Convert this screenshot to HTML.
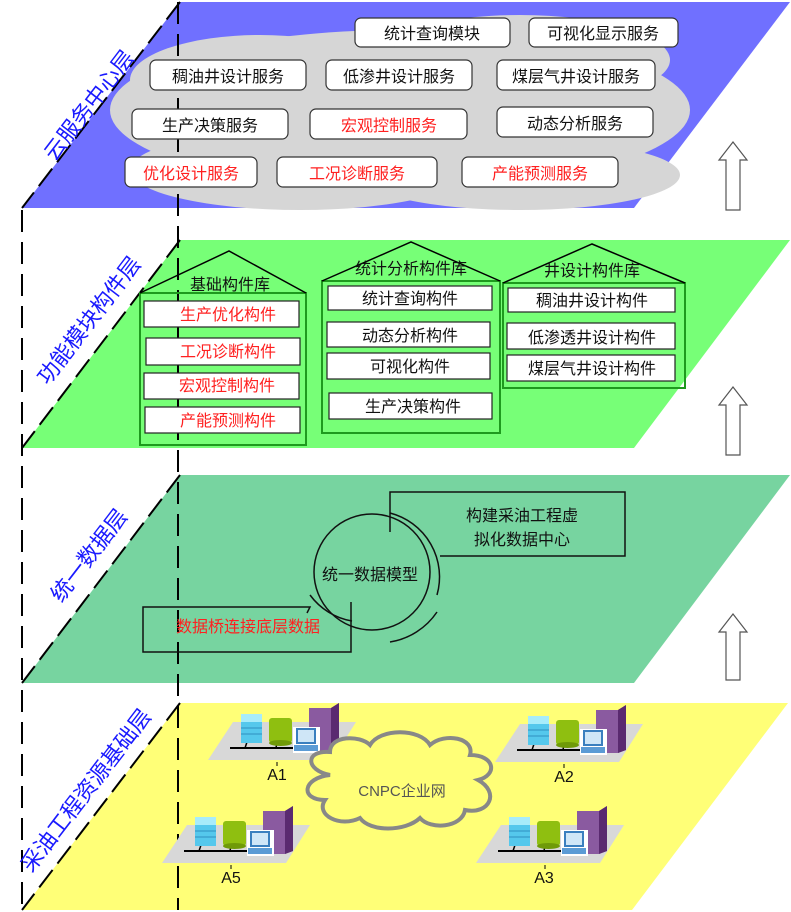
<!DOCTYPE html>
<html><head><meta charset="utf-8"><style>
body{margin:0;background:#fff}
svg{display:block}
text{font-family:"Liberation Sans","Noto Sans CJK SC",sans-serif}
</style></head><body>
<svg width="791" height="912" viewBox="0 0 791 912" xmlns="http://www.w3.org/2000/svg">
<defs>
<g id="site">
 <polygon points="0,0 25,-38 148,-38 124,0" fill="#d8d8d8"/>
 <line x1="22" y1="-12" x2="86" y2="-12" stroke="#000" stroke-width="2"/>
 <line x1="37" y1="-12" x2="39" y2="-18" stroke="#000" stroke-width="1.5"/>
 <line x1="68" y1="-12" x2="69" y2="-18" stroke="#000" stroke-width="1.5"/>
 <rect x="33" y="-46" width="21" height="29" fill="#55c8ec"/>
 <rect x="33" y="-46" width="21" height="8" fill="#a8ecfa"/>
 <line x1="33" y1="-32" x2="54" y2="-32" stroke="#2f8fbf"/>
 <line x1="33" y1="-26" x2="54" y2="-26" stroke="#2f8fbf"/>
 <rect x="61" y="-42" width="23" height="25" rx="3" fill="#8fbf10"/>
 <ellipse cx="72.5" cy="-17" rx="11.5" ry="3" fill="#6f9a08"/>
 <polygon points="101,-52 123,-52 131,-57 131,-12 123,-9 101,-9" fill="#8a5aa0"/>
 <polygon points="123,-52 131,-57 131,-12 123,-9" fill="#5a2a70"/>
 <rect x="85" y="-33" width="27" height="26" fill="#fff"/>
 <rect x="89" y="-31" width="18" height="14" fill="#cfe6f7" stroke="#3a7fbf" stroke-width="2"/>
 <rect x="86" y="-15" width="24" height="6" fill="#5b9bd5"/>
 <line x1="69" y1="2" x2="69" y2="6" stroke="#000"/>
</g>
</defs>

<!-- layer 1 blue -->
<polygon points="180,2 790,2 634,208 22,208" fill="#7070ff"/>
<!-- cloud -->
<g fill="#d6d6d6">
 <ellipse cx="400" cy="110" rx="290" ry="80"/>
 <ellipse cx="260" cy="80" rx="130" ry="45"/>
 <ellipse cx="520" cy="60" rx="150" ry="45"/>
 <ellipse cx="300" cy="170" rx="170" ry="40"/>
 <ellipse cx="520" cy="175" rx="160" ry="35"/>
</g>
<!-- layer 2 green -->
<polygon points="180,240 790,240 634,448 22,448" fill="#77ff77"/>
<!-- layer 3 teal -->
<polygon points="180,475 790,475 634,683 22,683" fill="#77d4a0"/>
<!-- layer 4 yellow -->
<polygon points="180,703 788,703 632,910 22,910" fill="#ffff77"/>

<!-- dashed edges -->
<g stroke="#000" stroke-width="2" fill="none">
 <line x1="178" y1="2" x2="178" y2="910" stroke-dasharray="22,10"/>
 <line x1="22" y1="210" x2="22" y2="910" stroke-dasharray="22,10"/>
 <line x1="180" y1="2" x2="22" y2="208" stroke-dasharray="22,8"/>
 <line x1="180" y1="240" x2="22" y2="448" stroke-dasharray="22,8"/>
 <line x1="180" y1="475" x2="22" y2="683" stroke-dasharray="22,8"/>
 <line x1="180" y1="703" x2="22" y2="910" stroke-dasharray="22,8"/>
</g>

<!-- labels -->
<g fill="#1a1aff" font-size="22">
 <text transform="translate(95,110) rotate(-52.5)" text-anchor="middle">云服务中心层</text>
 <text transform="translate(95,325) rotate(-52.5)" text-anchor="middle">功能模块构件层</text>
 <text transform="translate(95,560) rotate(-52.5)" text-anchor="middle">统一数据层</text>
 <text transform="translate(92,795) rotate(-52.5)" text-anchor="middle">采油工程资源基础层</text>
</g>

<!-- arrows -->
<g fill="#fff" stroke="#555" stroke-width="1.2">
 <polygon points="733,142 747,160 740,160 740,210 726,210 726,160 719,160"/>
 <polygon points="733,387 747,405 740,405 740,455 726,455 726,405 719,405"/>
 <polygon points="733,614 747,632 740,632 740,680 726,680 726,632 719,632"/>
</g>

<!-- cloud service boxes -->
<g fill="#fff" stroke="#333" stroke-width="1.2">
 <rect x="355" y="18" width="155" height="29" rx="6"/>
 <rect x="529" y="18" width="149" height="29" rx="6"/>
 <rect x="150" y="60" width="156" height="30" rx="6"/>
 <rect x="326" y="60" width="146" height="30" rx="6"/>
 <rect x="497" y="60" width="158" height="30" rx="6"/>
 <rect x="132" y="109" width="156" height="30" rx="6"/>
 <rect x="310" y="109" width="157" height="30" rx="6"/>
 <rect x="497" y="107" width="156" height="30" rx="6"/>
 <rect x="125" y="157" width="132" height="30" rx="6"/>
 <rect x="277" y="157" width="160" height="30" rx="6"/>
 <rect x="462" y="157" width="156" height="30" rx="6"/>
</g>
<g font-size="16" text-anchor="middle" fill="#111">
 <text x="432" y="39">统计查询模块</text>
 <text x="603" y="39">可视化显示服务</text>
 <text x="228" y="82">稠油井设计服务</text>
 <text x="399" y="82">低渗井设计服务</text>
 <text x="576" y="82">煤层气井设计服务</text>
 <text x="210" y="131">生产决策服务</text>
 <text x="389" y="131" fill="#ff2020">宏观控制服务</text>
 <text x="575" y="129">动态分析服务</text>
 <text x="191" y="179" fill="#ff2020">优化设计服务</text>
 <text x="357" y="179" fill="#ff2020">工况诊断服务</text>
 <text x="540" y="179" fill="#ff2020">产能预测服务</text>
</g>

<!-- houses -->
<g stroke="#1e9a1e" stroke-width="2" fill="none">
 <rect x="140" y="293" width="166" height="152"/>
 <rect x="322" y="281" width="178" height="152"/>
 <rect x="503" y="283" width="182" height="105"/>
</g>
<g stroke="#000" stroke-width="1.5" fill="none">
 <polyline points="140,293 229,251 306,293"/>
 <polyline points="322,281 411,242 500,281"/>
 <polyline points="503,283 592,244 685,283"/>
</g>
<g fill="#fff" stroke="#222" stroke-width="1.2">
 <rect x="144" y="301" width="155" height="26"/>
 <rect x="146" y="338" width="154" height="27"/>
 <rect x="144" y="373" width="155" height="26"/>
 <rect x="145" y="407" width="155" height="26"/>
 <rect x="328" y="286" width="164" height="24"/>
 <rect x="327" y="322" width="163" height="25"/>
 <rect x="327" y="353" width="163" height="26"/>
 <rect x="329" y="393" width="163" height="26"/>
 <rect x="508" y="288" width="167" height="24"/>
 <rect x="507" y="323" width="168" height="26"/>
 <rect x="507" y="355" width="168" height="26"/>
</g>
<g font-size="16" text-anchor="middle" fill="#111">
 <text x="230" y="290">基础构件库</text>
 <text x="411" y="274">统计分析构件库</text>
 <text x="592" y="276">井设计构件库</text>
 <text x="228" y="320" fill="#ff2020">生产优化构件</text>
 <text x="228" y="357" fill="#ff2020">工况诊断构件</text>
 <text x="227" y="391" fill="#ff2020">宏观控制构件</text>
 <text x="228" y="426" fill="#ff2020">产能预测构件</text>
 <text x="410" y="304">统计查询构件</text>
 <text x="410" y="341">动态分析构件</text>
 <text x="410" y="372">可视化构件</text>
 <text x="413" y="412">生产决策构件</text>
 <text x="592" y="306">稠油井设计构件</text>
 <text x="592" y="343">低渗透井设计构件</text>
 <text x="592" y="374">煤层气井设计构件</text>
</g>

<!-- data layer -->
<g stroke="#111" stroke-width="1.5" fill="none">
 <polyline points="390,532 390,492 625,492 625,556 440,556"/>
 <polyline points="307,613 310,607 143,607 143,652 351,652 351,602"/>
 <circle cx="372" cy="572" r="58"/>
 <path d="M390,513 A66,66 0 0 1 437,595"/>
 <path d="M437,612 A70,70 0 0 1 390,642"/>
 <path d="M310,595 A66,66 0 0 0 352,621"/>
</g>
<g font-size="16" text-anchor="middle">
 <text x="522" y="521" fill="#111">构建采油工程虚</text>
 <text x="522" y="545" fill="#111">拟化数据中心</text>
 <text x="370" y="580" fill="#111">统一数据模型</text>
 <text x="248" y="632" fill="#ff2020">数据桥连接底层数据</text>
</g>

<!-- resource layer -->
<g transform="translate(208,760)"><use href="#site"/></g>
<g transform="translate(495,762)"><use href="#site"/></g>
<g transform="translate(162,863)"><use href="#site"/></g>
<g transform="translate(476,863)"><use href="#site"/></g>
<g font-size="16" text-anchor="middle" fill="#111">
 <text x="277" y="780">A1</text>
 <text x="564" y="782">A2</text>
 <text x="231" y="883">A5</text>
 <text x="544" y="883">A3</text>
</g>
<!-- CNPC cloud -->
<g fill="#ffff77" stroke="#888" stroke-width="4">
 <path d="M330,775 C305,770 305,750 330,752 C330,735 360,735 370,745 C380,728 420,728 430,745 C445,732 475,738 470,755 C495,755 498,775 478,780 C500,792 490,815 465,810 C462,828 430,830 420,818 C405,832 370,832 360,818 C340,828 315,815 325,800 C300,800 302,778 330,775 Z"/>
</g>
<text x="402" y="796" font-size="15" text-anchor="middle" fill="#555" font-family="Liberation Serif,serif">CNPC企业网</text>
</svg>
</body></html>
